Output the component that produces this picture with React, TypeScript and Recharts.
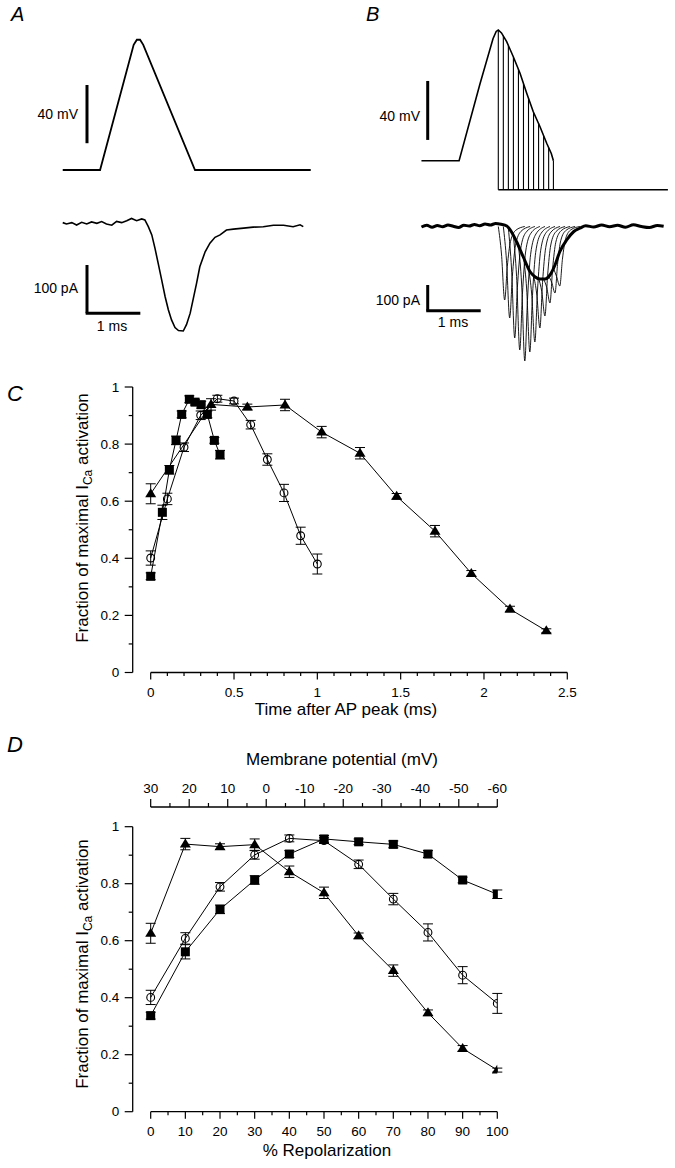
import React from 'react';
import { ComposedChart, Line, XAxis, YAxis, ErrorBar, ReferenceLine } from 'recharts';

const FONT = '"Liberation Sans", Arial, sans-serif';
const PAGE_W = 675;
const PAGE_H = 1168;

// ---------- Panel A: AP waveform and evoked I_Ca (time in ms from AP peak)
const apTimeA = [-1.43, -0.73, -0.1, -0.04, 0.02, 0.08, 1.05, 3.22];
const apVoltA = [-60, -60, 26, 29.5, 29.5, 26, -60, -60];

const icaTimeA = [
  -1.43, -1.36, -1.26, -1.17, -1.075, -0.98, -0.89, -0.79, -0.7, -0.61,
  -0.51, -0.42, -0.325, -0.23, -0.14, -0.044, 0.05, 0.11, 0.175, 0.24,
  0.3, 0.36, 0.425, 0.49, 0.55, 0.61, 0.675, 0.74, 0.83, 0.89,
  0.96, 1.02, 1.08, 1.14, 1.24, 1.33, 1.425, 1.52, 1.64, 1.77,
  1.96, 2.14, 2.33, 2.52, 2.71, 2.89, 3.02, 3.08,
];
const icaA = [
  1.4, -1.4, 1.4, -3.5, 2, -1.4, 2.8, 0, 3.5, -1.4,
  -4, 4, 1.4, 5.5, 10, 5.5, 9, 7, -7, -24,
  -52, -83, -117, -152, -179, -200, -216, -222, -223, -210,
  -186, -155, -124, -90, -59, -41, -29, -24, -14, -12,
  -10, -8, -7, -4, -4, -7, -3, -7,
];

// ---------- Panel B: AP clamp with repolarizing steps to -80 mV
const apTimeB = [-1.45, -0.74, -0.345, -0.1, -0.04, 0, 0.06, 0.158, 0.283, 0.41, 0.536, 0.66, 0.787, 0.913, 1.0, 1.04];
const apVoltB = [-60, -60, -7, 24, 29, 30, 28, 22, 11.6, 0.2, -13.6, -26.3, -36.6, -48, -55, -60];
const stepTimesB = [0, 0.095, 0.19, 0.285, 0.38, 0.475, 0.57, 0.665, 0.76, 0.855, 0.95, 1.04];
const stepVoltsB = [30, 26, 19, 11, 3, -7, -17, -27, -34, -43, -51, -60];
const holdTimeB = [0, 3.2];
const holdVoltB = [-80, -80];

const thickTimeB = [
  -1.45, -1.35, -1.25, -1.15, -1.05, -0.95, -0.85, -0.75, -0.65, -0.55,
  -0.45, -0.35, -0.25, -0.15, -0.05, 0.05, 0.16, 0.25, 0.345, 0.47,
  0.6, 0.69, 0.79, 0.88, 0.975, 1.07, 1.16, 1.29, 1.42, 1.54,
  1.65, 1.8, 1.95, 2.1, 2.25, 2.4, 2.55, 2.7, 2.85, 3.0, 3.12,
];
const thickCurB = [
  -2, 5, -3, 4, -1, 6, 1, -4, 5, 2,
  8, 3, 10, 6, 12, 9, 2, -22, -61, -121,
  -181, -201, -210, -210, -194, -154, -101, -54, -21, -7,
  3, -2, 6, -1, 5, -3, 7, 0, -4, 4, 1,
];

// tail currents, one per step: [t, pA]
const tailTracesB = [
  [[0, 0], [0.06, -110], [0.12, -294], [0.17, -160], [0.23, -60], [0.33, -15], [0.5, 0]],
  [[0.095, 0], [0.155, -137], [0.215, -366], [0.265, -200], [0.325, -75], [0.425, -20], [0.6, 0]],
  [[0.19, -7], [0.25, -170], [0.31, -446], [0.36, -245], [0.42, -92], [0.52, -24], [0.69, 0]],
  [[0.285, -37], [0.345, -200], [0.405, -494], [0.455, -272], [0.515, -102], [0.615, -27], [0.785, 0]],
  [[0.38, -78], [0.44, -230], [0.5, -538], [0.55, -296], [0.61, -111], [0.71, -30], [0.88, 0]],
  [[0.475, -123], [0.535, -250], [0.595, -502], [0.645, -276], [0.705, -104], [0.805, -28], [0.975, 0]],
  [[0.57, -167], [0.63, -270], [0.69, -462], [0.74, -254], [0.8, -95], [0.9, -25], [1.07, 0]],
  [[0.665, -196], [0.725, -270], [0.785, -406], [0.835, -223], [0.895, -84], [0.995, -22], [1.165, 0]],
  [[0.76, -207], [0.82, -260], [0.88, -358], [0.93, -197], [0.99, -74], [1.09, -20], [1.26, 0]],
  [[0.855, -210], [0.915, -245], [0.975, -306], [1.025, -168], [1.085, -63], [1.185, -17], [1.355, 0]],
  [[0.95, -198], [1.01, -225], [1.07, -266], [1.12, -146], [1.18, -55], [1.28, -15], [1.45, 0]],
  [[1.04, -167], [1.1, -200], [1.16, -238], [1.21, -131], [1.27, -49], [1.37, -13], [1.54, 0]],
];

// ---------- Panels C and D: fraction of maximal I_Ca activation
const fracTriangle = [0.626, 0.939, 0.93, 0.937, 0.842, 0.768, 0.617, 0.495, 0.347, 0.222, 0.146];
const errTriangle = [0.035, 0.02, 0.01, 0.02, 0.02, 0.02, 0.01, 0.02, 0.01, 0.01, 0.007];
const fracCircle = [0.401, 0.608, 0.789, 0.901, 0.959, 0.951, 0.868, 0.746, 0.629, 0.479, 0.38];
const errCircle = [0.025, 0.02, 0.015, 0.015, 0.012, 0.01, 0.015, 0.02, 0.03, 0.03, 0.035];
const fracSquare = [0.337, 0.561, 0.71, 0.813, 0.904, 0.957, 0.947, 0.938, 0.904, 0.813, 0.763];
const errSquare = [0.012, 0.025, 0.015, 0.015, 0.012, 0.012, 0.01, 0.012, 0.012, 0.01, 0.015];

const timeTriangle = [0, 0.362, 0.58, 0.806, 1.026, 1.256, 1.476, 1.706, 1.924, 2.156, 2.374];
const timeCircle = [0, 0.1, 0.2, 0.3, 0.4, 0.5, 0.6, 0.7, 0.8, 0.9, 1.0];
const timeSquare = [0, 0.07, 0.112, 0.152, 0.186, 0.232, 0.266, 0.303, 0.34, 0.382, 0.416];
const repolPct = [0, 10, 20, 30, 40, 50, 60, 70, 80, 90, 100];

const timeTicksC = [0, 0.1, 0.2, 0.3, 0.4, 0.5, 0.6, 0.7, 0.8, 0.9, 1, 1.1, 1.2, 1.3, 1.4, 1.5, 1.6, 1.7, 1.8, 1.9, 2, 2.1, 2.2, 2.3, 2.4, 2.5];
const timeLabelsC = [0, 0.5, 1, 1.5, 2, 2.5];
const fracTicks = [0, 0.1, 0.2, 0.3, 0.4, 0.5, 0.6, 0.7, 0.8, 0.9, 1];
const fracLabels = [0, 0.2, 0.4, 0.6, 0.8, 1];
const repolTicks = [0, 5, 10, 15, 20, 25, 30, 35, 40, 45, 50, 55, 60, 65, 70, 75, 80, 85, 90, 95, 100];
const repolLabels = [0, 10, 20, 30, 40, 50, 60, 70, 80, 90, 100];
const mvTicks = [30, 25, 20, 15, 10, 5, 0, -5, -10, -15, -20, -25, -30, -35, -40, -45, -50, -55, -60];
const mvLabels = [30, 20, 10, 0, -10, -20, -30, -40, -50, -60];

const zip = (xs: number[], ys: number[], es?: number[]) =>
  xs.map((x, i) => ({ x, y: ys[i], e: es ? es[i] : 0 }));
const trace = (ts: number[], vs: number[]) => ts.map((t, i) => ({ t, v: vs[i] }));

// plot boxes in page pixels
const boxAV = { left: 32.33, right: 325.67, top: 17.17, bottom: 199.1 };
const boxAI = { left: 32.33, right: 325.67, top: 199.15, bottom: 344.05 };
const boxBV = { left: 413.5, right: 670.55, top: 8.2, bottom: 197 };
const boxBI = { left: 413.5, right: 670.55, top: 211.5, bottom: 366.5 };
const boxC = { left: 132.7, right: 567.3, top: 387, bottom: 672.5 };
const boxD = { left: 132.7, right: 497.3, top: 807, bottom: 1111.7 };
const Y_TOP_D = 1.0691;
const AX = 1; // size of the (invisible) axis bands

const marginOf = (b: { left: number; right: number; top: number; bottom: number }) => ({
  left: b.left,
  top: b.top,
  right: PAGE_W - b.right,
  bottom: PAGE_H - b.bottom,
});
// axes bands of AX px are added by recharts; take them back out of the margins
const axisMargin = (b: { left: number; right: number; top: number; bottom: number }, topAxis: boolean) => ({
  left: b.left - AX,
  top: b.top - (topAxis ? AX : 0),
  right: PAGE_W - b.right,
  bottom: PAGE_H - b.bottom - AX,
});

const layer: React.CSSProperties = { position: 'absolute', left: 0, top: 0 };

const isMajor = (v: number, majors: number[]) => majors.some((m) => Math.abs(m - v) < 1e-6);

const bottomTick = (majors: number[]) => (p: any) => {
  const v = p.payload.value;
  const major = isMajor(v, majors);
  return (
    <g key={`b${v}`}>
      <line x1={p.x} y1={p.y} x2={p.x} y2={p.y + (major ? 7 : 3.5)} stroke="#000" strokeWidth={1.2} />
      {major && (
        <text x={p.x} y={p.y + 24} textAnchor="middle" fontSize={13.5} fontFamily={FONT} fill="#000">
          {String(v)}
        </text>
      )}
    </g>
  );
};

const topTick = (majors: number[]) => (p: any) => {
  const v = p.payload.value;
  const major = isMajor(v, majors);
  return (
    <g key={`t${v}`}>
      <line x1={p.x} y1={p.y} x2={p.x} y2={p.y - (major ? 8 : 4)} stroke="#000" strokeWidth={1.2} />
      {major && (
        <text x={p.x} y={p.y - 14} textAnchor="middle" fontSize={13.5} fontFamily={FONT} fill="#000">
          {String(v)}
        </text>
      )}
    </g>
  );
};

const leftTick = (majors: number[]) => (p: any) => {
  const v = p.payload.value;
  const major = isMajor(v, majors);
  return (
    <g key={`l${v}`}>
      <line x1={p.x} y1={p.y} x2={p.x - (major ? 8 : 4)} y2={p.y} stroke="#000" strokeWidth={1.2} />
      {major && (
        <text x={p.x - 13.5} y={p.y + 4.7} textAnchor="end" fontSize={13.5} fontFamily={FONT} fill="#000">
          {String(v)}
        </text>
      )}
    </g>
  );
};

const SquareDot = (p: any) => (
  <rect key={`sq${p.index}`} x={p.cx - 4.5} y={p.cy - 4.5} width={9} height={9} fill="#000" />
);
const CircleDot = (p: any) => (
  <circle key={`ci${p.index}`} cx={p.cx} cy={p.cy} r={3.9} fill="none" stroke="#000" strokeWidth={1.1} />
);
const TriangleDot = (p: any) => (
  <polygon
    key={`tr${p.index}`}
    points={`${p.cx},${p.cy - 5.5} ${p.cx + 5.5},${p.cy + 3.5} ${p.cx - 5.5},${p.cy + 3.5}`}
    fill="#000"
  />
);

const dataSeries = (data: any[], dot: any, key: string) => (
  <Line
    key={key}
    data={data}
    dataKey="y"
    type="linear"
    stroke="#000"
    strokeWidth={1}
    dot={dot}
    activeDot={false}
    isAnimationActive={false}
  >
    <ErrorBar dataKey="e" width={5} stroke="#000" strokeWidth={1} direction="y" />
  </Line>
);

const traceLine = (data: any[], key: string, width: number) => (
  <Line
    key={key}
    data={data}
    dataKey="v"
    type="linear"
    stroke="#000"
    strokeWidth={width}
    dot={false}
    activeDot={false}
    isAnimationActive={false}
  />
);

const bar = (x1: number, y1: number, x2: number, y2: number, key: string) => (
  <ReferenceLine
    key={key}
    segment={[{ x: x1, y: y1 }, { x: x2, y: y2 }]}
    stroke="#000"
    strokeWidth={3}
    ifOverflow="visible"
  />
);

const axisSeg = (x1: number, y1: number, x2: number, y2: number, key: string) => (
  <ReferenceLine
    key={key}
    segment={[{ x: x1, y: y1 }, { x: x2, y: y2 }]}
    stroke="#000"
    strokeWidth={1.3}
    ifOverflow="visible"
  />
);

const TraceChart = ({ box, xDomain, yDomain, children }: any) => (
  <div style={layer}>
    <ComposedChart width={PAGE_W} height={PAGE_H} margin={marginOf(box)}>
      <XAxis type="number" dataKey="t" domain={xDomain} hide allowDataOverflow />
      <YAxis type="number" domain={yDomain} hide allowDataOverflow />
      {children}
    </ComposedChart>
  </div>
);

const App = () => {
  const cSeries = [
    dataSeries(zip(timeTriangle, fracTriangle, errTriangle), TriangleDot, 'cT'),
    dataSeries(zip(timeCircle, fracCircle, errCircle), CircleDot, 'cC'),
    dataSeries(zip(timeSquare, fracSquare, errSquare), SquareDot, 'cS'),
  ];
  const dSeries = [
    dataSeries(zip(repolPct, fracTriangle, errTriangle), TriangleDot, 'dT'),
    dataSeries(zip(repolPct, fracCircle, errCircle), CircleDot, 'dC'),
    dataSeries(zip(repolPct, fracSquare, errSquare), SquareDot, 'dS'),
  ];

  const commonAxis = {
    type: 'number' as const,
    interval: 0,
    tickSize: 0,
    tickMargin: 0,
    axisLine: false,
    tickLine: false,
    allowDataOverflow: true,
  };

  return (
    <div style={{ position: 'absolute', left: 0, top: 0, width: PAGE_W, height: PAGE_H, background: '#fff' }}>
      {/* A: voltage */}
      <TraceChart box={boxAV} xDomain={[-2, 3.5]} yDomain={[-80, 45]}>
        {traceLine(trace(apTimeA, apVoltA), 'aV', 1.8)}
        {bar(-0.975, -41.6, -0.975, -1.6, 'aVbar')}
      </TraceChart>
      {/* A: current */}
      <TraceChart box={boxAI} xDomain={[-2, 3.5]} yDomain={[-250, 50]}>
        {traceLine(trace(icaTimeA, icaA), 'aI', 1.6)}
        {bar(-0.975, -86.3, -0.975, -186.3, 'aIbarV')}
        {bar(-1.0, -186.3, 0.025, -186.3, 'aIbarH')}
      </TraceChart>
      {/* B: voltage steps */}
      <TraceChart box={boxBV} xDomain={[-1.6, 3.25]} yDomain={[-85, 45]}>
        {traceLine(trace(apTimeB, apVoltB), 'bV', 1.6)}
        {traceLine(trace(holdTimeB, holdVoltB), 'bHold', 1.6)}
        {stepTimesB.map((t, i) =>
          traceLine(trace([t, t], [stepVoltsB[i], -80]), `bStep${i}`, 1.1)
        )}
        {bar(-1.332, -45.7, -1.332, -5.1, 'bVbar')}
      </TraceChart>
      {/* B: currents */}
      <TraceChart box={boxBI} xDomain={[-1.6, 3.25]} yDomain={[-560, 60]}>
        {tailTracesB.map((tr, i) => (
          <Line
            key={`tail${i}`}
            data={tr.map(([t, v]) => ({ t, v }))}
            dataKey="v"
            type="monotone"
            stroke="#000"
            strokeWidth={0.9}
            dot={false}
            activeDot={false}
            isAnimationActive={false}
          />
        ))}
        <Line
          data={trace(thickTimeB, thickCurB)}
          dataKey="v"
          type="monotone"
          stroke="#000"
          strokeWidth={3}
          dot={false}
          activeDot={false}
          isAnimationActive={false}
        />
        {bar(-1.332, -234, -1.332, -336.8, 'bIbarV')}
        {bar(-1.36, -336.8, -0.332, -336.8, 'bIbarH')}
      </TraceChart>

      {/* C */}
      <div style={layer}>
        <ComposedChart width={PAGE_W} height={PAGE_H} margin={axisMargin(boxC, false)}>
          <XAxis
            {...commonAxis}
            dataKey="x"
            domain={[-0.108, 2.5]}
            ticks={timeTicksC}
            height={AX}
            tick={bottomTick(timeLabelsC)}
          />
          <YAxis {...commonAxis} domain={[0, 1]} ticks={fracTicks} width={AX} tick={leftTick(fracLabels)} />
          {axisSeg(0, 0, 2.5, 0, 'cx')}
          {axisSeg(-0.108, 0, -0.108, 1, 'cy')}
          {cSeries}
        </ComposedChart>
      </div>

      {/* D */}
      <div style={layer}>
        <ComposedChart width={PAGE_W} height={PAGE_H} margin={axisMargin(boxD, true)}>
          <XAxis
            {...commonAxis}
            dataKey="x"
            domain={[-5.19, 100]}
            ticks={repolTicks}
            height={AX}
            tick={bottomTick(repolLabels)}
          />
          <XAxis
            {...commonAxis}
            xAxisId="mv"
            dataKey="mv"
            orientation="top"
            domain={[-60, 34.67]}
            reversed
            ticks={mvTicks}
            height={AX}
            tick={topTick(mvLabels)}
          />
          <YAxis {...commonAxis} domain={[0, Y_TOP_D]} ticks={fracTicks} width={AX} tick={leftTick(fracLabels)} />
          {/* empty series that only binds the membrane-potential scale */}
          <Line
            xAxisId="mv"
            data={mvLabels.map((mv) => ({ mv }))}
            dataKey="none"
            stroke="none"
            dot={false}
            activeDot={false}
            isAnimationActive={false}
          />
          {axisSeg(0, 0, 100, 0, 'dx')}
          {axisSeg(0, Y_TOP_D, 100, Y_TOP_D, 'dtop')}
          {axisSeg(-5.19, 0, -5.19, 1, 'dy')}
          {dSeries}
        </ComposedChart>
      </div>

      {/* text layer */}
      <svg width={PAGE_W} height={PAGE_H} style={{ ...layer, pointerEvents: 'none' }} fontFamily={FONT} fill="#000">
        <text x={11} y={21} fontSize={20} fontStyle="italic">A</text>
        <text x={366} y={21} fontSize={20} fontStyle="italic">B</text>
        <text x={7} y={401} fontSize={22} fontStyle="italic">C</text>
        <text x={7} y={752} fontSize={22} fontStyle="italic">D</text>

        <text x={78} y={119} fontSize={14} textAnchor="end">40 mV</text>
        <text x={78} y={293} fontSize={14} textAnchor="end">100 pA</text>
        <text x={112} y={330.5} fontSize={14} textAnchor="middle">1 ms</text>
        <text x={420} y={120.5} fontSize={14} textAnchor="end">40 mV</text>
        <text x={420} y={305} fontSize={14} textAnchor="end">100 pA</text>
        <text x={453} y={327} fontSize={14} textAnchor="middle">1 ms</text>

        <text transform="translate(88,518) rotate(-90)" fontSize={17} textAnchor="middle">
          Fraction of maximal I<tspan fontSize={12} dy={4}>Ca</tspan>
          <tspan dy={-4}> activation</tspan>
        </text>
        <text x={346} y={715} fontSize={17} textAnchor="middle">Time after AP peak (ms)</text>

        <text x={342} y={765} fontSize={17} textAnchor="middle">Membrane potential (mV)</text>
        <text transform="translate(88,964) rotate(-90)" fontSize={17} textAnchor="middle">
          Fraction of maximal I<tspan fontSize={12} dy={4}>Ca</tspan>
          <tspan dy={-4}> activation</tspan>
        </text>
        <text x={327} y={1156} fontSize={17} textAnchor="middle">% Repolarization</text>
      </svg>
    </div>
  );
};

export default App;
